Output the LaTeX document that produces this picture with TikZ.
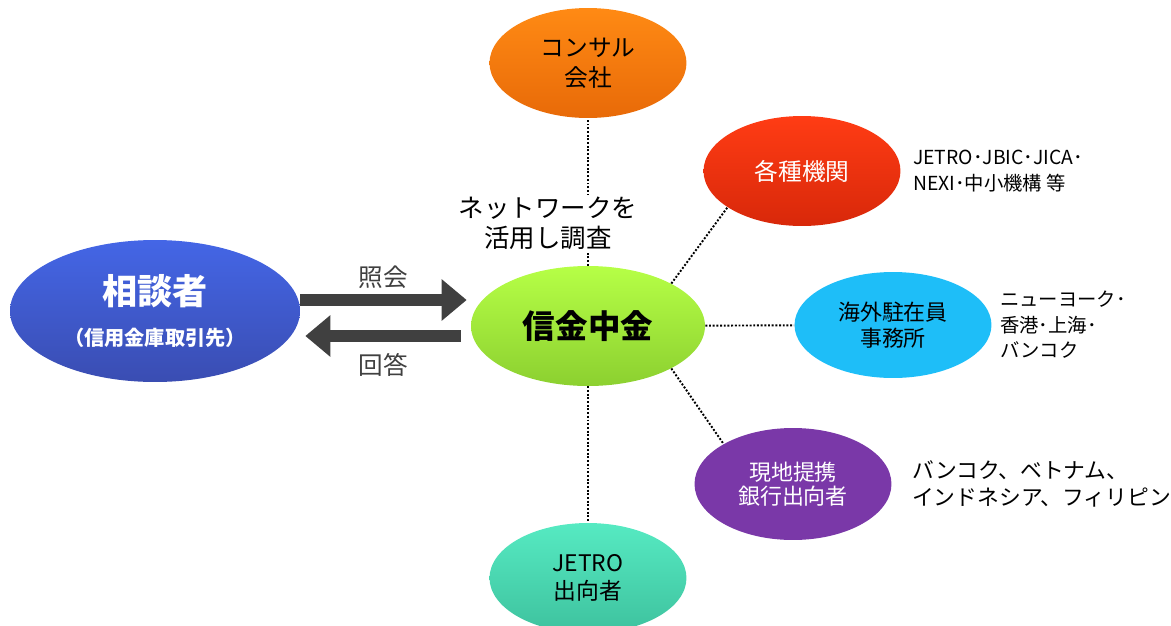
\documentclass[tikz,border=0pt]{standalone}
\usepackage{fontspec}
\setmainfont{Noto Sans CJK JP}
\usepackage{xcolor}
\usetikzlibrary{arrows.meta,positioning,shapes.geometric}

\definecolor{sodantop}{HTML}{4466E6}
\definecolor{sodanbot}{HTML}{3A4DB2}
\definecolor{greentop}{HTML}{B6FF46}
\definecolor{greenbot}{HTML}{8CD030}
\definecolor{orangetop}{HTML}{FF8A14}
\definecolor{orangebot}{HTML}{E86A08}
\definecolor{redtop}{HTML}{FF3C14}
\definecolor{redbot}{HTML}{D8280A}
\definecolor{skyblue}{HTML}{1EBEF8}
\definecolor{violet}{HTML}{7A38A8}
\definecolor{tealtop}{HTML}{56EAC2}
\definecolor{tealbot}{HTML}{3EC29E}
\definecolor{arrowgray}{HTML}{404040}

\begin{document}
\begin{tikzpicture}[
        x=0.02cm, y=-0.02cm,
        bubble/.style={ellipse,draw=none,inner sep=0pt,minimum width=3.94cm,minimum height=2.2cm,align=center,font=\fontsize{13.5}{17}\selectfont},
        link/.style={densely dotted,line width=1.1pt,black},
        flow/.style={-{Triangle[length=0.5cm,width=0.8cm]},line width=0.24cm,arrowgray},
        note/.style={align=left,inner sep=0pt,font=\fontsize{11}{14.5}\selectfont}
    ]
        \useasboundingbox (0,0) rectangle (1171,626);

        % center and client
        \node[bubble,top color=greentop,bottom color=greenbot,minimum width=4.68cm,minimum height=2.4cm,font=\fontsize{18.5}{22}\selectfont\bfseries] (shinkin) at (588,326) {信金中金};
        \node[bubble,top color=sodantop,bottom color=sodanbot,text=white,minimum width=5.8cm,minimum height=2.84cm] (sodan) at (155,311)
            {{\fontsize{20}{24}\selectfont\bfseries 相談者}\\[6pt]{\fontsize{11.5}{14}\selectfont\bfseries （信用金庫取引先）}};

        % network
        \node[bubble,top color=orangetop,bottom color=orangebot] (consul) at (588,63) {コンサル\\会社};
        \node[bubble,top color=redtop,bottom color=redbot,text=white] (kikan) at (802,171) {各種機関};
        \node[bubble,fill=skyblue,minimum height=2.12cm,font=\fontsize{12.5}{14.5}\selectfont] (kaigai) at (893,325) {海外駐在員\\事務所};
        \node[bubble,fill=violet,text=white,minimum height=2.24cm,font=\fontsize{12.5}{13.5}\selectfont] (genchi) at (793,484) {現地提携\\銀行出向者};
        \node[bubble,top color=tealtop,bottom color=tealbot,font=\fontsize{13}{15.5}\selectfont] (jetro) at (588,578) {JETRO\\出向者};

        \draw[link] (shinkin) -- (consul);
        \draw[link] (shinkin.27) -- (kikan.206);
        \draw[link] (shinkin) -- (kaigai);
        \draw[link] (shinkin.333) -- (genchi.150);
        \draw[link] (shinkin) -- (jetro);

        \node[fill=white,inner sep=1pt,align=center,font=\fontsize{14.5}{17}\selectfont] (network) at (548,223) {ネットワークを\\活用し調査};

        % request and answer
        \draw[flow] (sodan.east |- 0,300) -- node[above=0pt,font=\fontsize{14}{17}\selectfont] (shokai) {照会} ([xshift=-0.08cm]shinkin.west |- 0,300);
        \draw[flow] ([xshift=-0.2cm]shinkin.west |- 0,336) -- node[below=3pt,font=\fontsize{14}{17}\selectfont] (kaito) {回答} ([xshift=0.1cm]sodan.east |- 0,336);

        % side notes
        \node[note,right=0.24cm of kikan] (kikannote) {JETRO･JBIC･JICA･\\NEXI･中小機構 等};
        \node[note,right=0.16cm of kaigai] (kaigainote) {ニューヨーク･\\香港･上海･\\バンコク};
        \node[note,right=0.4cm of genchi,font=\fontsize{12.4}{15}\selectfont] (genchinote) {バンコク、ベトナム、\\インドネシア、フィリピン};
    \end{tikzpicture}
\end{document}
